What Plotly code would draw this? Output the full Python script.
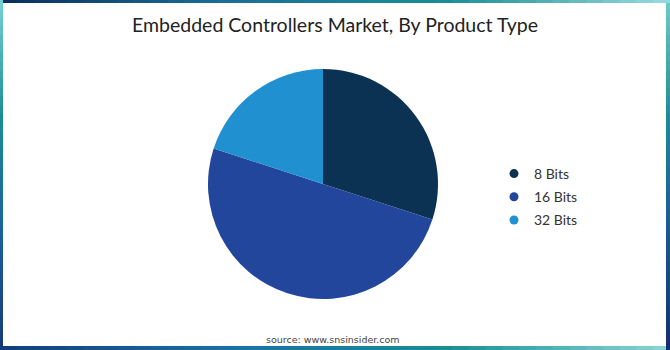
import plotly.graph_objects as go

categories = ["8 Bits", "16 Bits", "32 Bits"]
shares = [30, 50, 20]
colors = ["#0b3153", "#22469b", "#2190d0"]

W, H = 670, 350

fig = go.Figure()
fig.add_trace(go.Pie(
    labels=categories, values=shares, sort=False, direction="clockwise",
    rotation=0, textinfo="none", hoverinfo="label+percent",
    marker=dict(colors=colors, line=dict(width=0)), showlegend=False,
    domain=dict(x=[(323 - 115) / W, (323 + 115) / W],
                y=[(166 - 115) / H, (166 + 115) / H]),
))
for c, col in zip(categories, colors):
    fig.add_trace(go.Scatter(x=[None], y=[None], mode="markers", name=c, legendgroup=c,
                             marker=dict(size=9, color=col, symbol="circle")))


def lerp(c1, c2, t):
    a = [int(c1[i:i + 2], 16) for i in (1, 3, 5)]
    b = [int(c2[i:i + 2], 16) for i in (1, 3, 5)]
    return "#%02x%02x%02x" % tuple(round(a[k] + (b[k] - a[k]) * t) for k in range(3))


def grad(stops, t):
    n = len(stops) - 1
    i = min(int(t * n), n - 1)
    return lerp(stops[i], stops[i + 1], t * n - i)


shapes = []
N = 40
top_stops = ["#0c2d5c", "#1a6f9a", "#1a8e92", "#9adbe0"]
bot_stops = ["#143d7a", "#1b6fa6", "#1a8e92", "#8cd6d6"]
left_stops = ["#76d2d4", "#1a8e92", "#1c5fa0", "#173a78"]
right_stops = ["#6fcbcc", "#1a8e92", "#1e5598", "#132f6b"]
for k in range(N):
    t0, t1 = k / N, (k + 1) / N
    tm = (t0 + t1) / 2
    shapes.append(dict(type="rect", xref="paper", yref="paper", x0=t0, x1=t1 + 0.002,
                       y0=1 - 3 / H, y1=1, fillcolor=grad(top_stops, tm), line_width=0, layer="above"))
    shapes.append(dict(type="rect", xref="paper", yref="paper", x0=t0, x1=t1 + 0.002,
                       y0=0, y1=4 / H, fillcolor=grad(bot_stops, tm), line_width=0, layer="above"))
    shapes.append(dict(type="rect", xref="paper", yref="paper", x0=0, x1=3 / W,
                       y0=1 - t1 - 0.003, y1=1 - t0, fillcolor=grad(left_stops, tm), line_width=0, layer="above"))
    shapes.append(dict(type="rect", xref="paper", yref="paper", x0=1 - 4 / W, x1=1,
                       y0=1 - t1 - 0.003, y1=1 - t0, fillcolor=grad(right_stops, tm), line_width=0, layer="above"))

fig.update_layout(
    width=W, height=H, margin=dict(l=0, r=0, t=0, b=0),
    paper_bgcolor="white", plot_bgcolor="white",
    xaxis=dict(visible=False), yaxis=dict(visible=False),
    shapes=shapes,
    legend=dict(x=494 / W, y=(H - 158) / H, xanchor="left", yanchor="top",
                font=dict(family="Lato, Open Sans, sans-serif", size=14, color="#333333"),
                itemwidth=30, tracegroupgap=2, bgcolor="rgba(0,0,0,0)"),
    annotations=[
        dict(text="Embedded Controllers Market, By Product Type", x=0.5, y=1 - 25 / H,
             xref="paper", yref="paper", showarrow=False, xanchor="center", yanchor="middle",
             font=dict(family="Lato, sans-serif", size=19.5, color="#222222")),
        dict(text="source: www.snsinsider.com", x=0.497, y=11 / H,
             xref="paper", yref="paper", showarrow=False, xanchor="center", yanchor="middle",
             font=dict(family="DejaVu Sans, sans-serif", size=9.5, color="#444444")),
    ],
)

fig.write_html("out.html")
